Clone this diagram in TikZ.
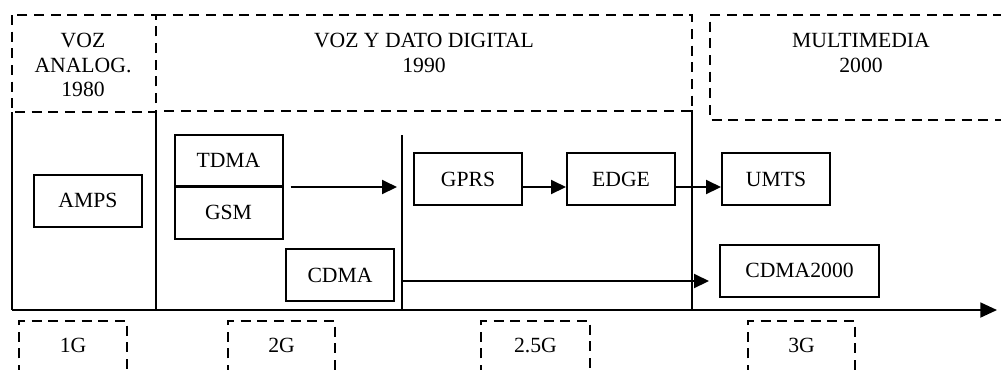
\documentclass[tikz,border=0pt]{standalone}
\usepackage{fontspec}
\setmainfont{Liberation Serif}
\usetikzlibrary{arrows.meta}
\tikzstyle{genbox}=[rectangle,draw=black,line width=1.2pt,
                    inner sep=0pt,minimum width=64.8pt,minimum height=31.2pt]
\tikzstyle{eraline}=[line width=1.2pt,dash pattern=on 6pt off 4pt]
\tikzstyle{timeline}=[line width=1.1pt]
\tikzstyle{flow}=[line width=1.2pt,-{Triangle[length=9pt,width=8.4pt]}]

\begin{document}
\begin{tikzpicture}[x=0.6pt,y=-0.6pt,
    every node/.style={font=\fontsize{13pt}{14.7pt}\selectfont}]
    \clip (0,0) rectangle (1001,369);
    % eras
    \draw[eraline] (12,15) rectangle (156,112);
    \draw[eraline] (156,15) -- (692,15) -- (692,111) -- (156,111);
    \draw[eraline] (1020,15) -- (710,15) -- (710,120) -- (1020,120);
    \node (analog) at (83,65) [align=center]{VOZ\\ANALOG.\\1980};
    \node (digital) at (424,53) [align=center]{VOZ Y DATO DIGITAL\\1990};
    \node (multi) at (861,53) [align=center]{MULTIMEDIA\\2000};
    % generation separators
    \coordinate (s1t) at (12,112);  \coordinate (s1b) at (12,310);
    \coordinate (s2t) at (156,112); \coordinate (s2b) at (156,310);
    \coordinate (s3t) at (402,135); \coordinate (s3b) at (402,310);
    \coordinate (s4t) at (692,110); \coordinate (s4b) at (692,310);
    \draw[timeline] (s1t) -- (s1b);
    \draw[timeline] (s2t) -- (s2b);
    \draw[timeline] (s3t) -- (s3b);
    \draw[timeline] (s4t) -- (s4b);
    \coordinate (axisend) at (997,310);
    \draw[timeline,-{Triangle[length=10pt,width=9pt]}] (s1b) -- (axisend);
    % systems
    \node (amps) at (88,200.5) [genbox]{AMPS};
    \node (tdma) at (228.5,160.5) [genbox,minimum height=30.6pt]{TDMA};
    \node (gsm) at (228.5,212.5) [genbox]{GSM};
    \node (cdma) at (340,275) [genbox]{CDMA};
    \node (gprs) at (468,179) [genbox]{GPRS};
    \node (edge) at (621,179) [genbox]{EDGE};
    \node (umts) at (776,179) [genbox]{UMTS};
    \node (cdmak) at (799.5,270.5) [genbox,minimum width=95.4pt]{CDMA2000};
    \coordinate (cdmastart) at (402,281);
    \draw[flow,shorten <=4.2pt,shorten >=3pt] (tdma.south east) -- (tdma.south east -| s3t);
    \draw[flow] ([yshift=-4.8pt]gprs.east) -- ([yshift=-4.8pt]edge.west);
    \draw[flow] ([yshift=-4.8pt]edge.east) -- ([yshift=-4.8pt]umts.west);
    \draw[flow,shorten >=6pt] (cdmastart) -- (cdmastart -| cdmak.west);
    % generations
    \foreach \xa/\xb/\lab/\nm in {19/127/1G/gen1,228/335/2G/gen2,
                                  481/590/2.5G/gen25,748/855/3G/gen3}{
        \draw[eraline] (\xa,375) -- (\xa,321) -- (\xb,321) -- (\xb,375);
        \node (\nm) at ({(\xa+\xb)/2},345) {\lab};
    }
\end{tikzpicture}
\end{document}
